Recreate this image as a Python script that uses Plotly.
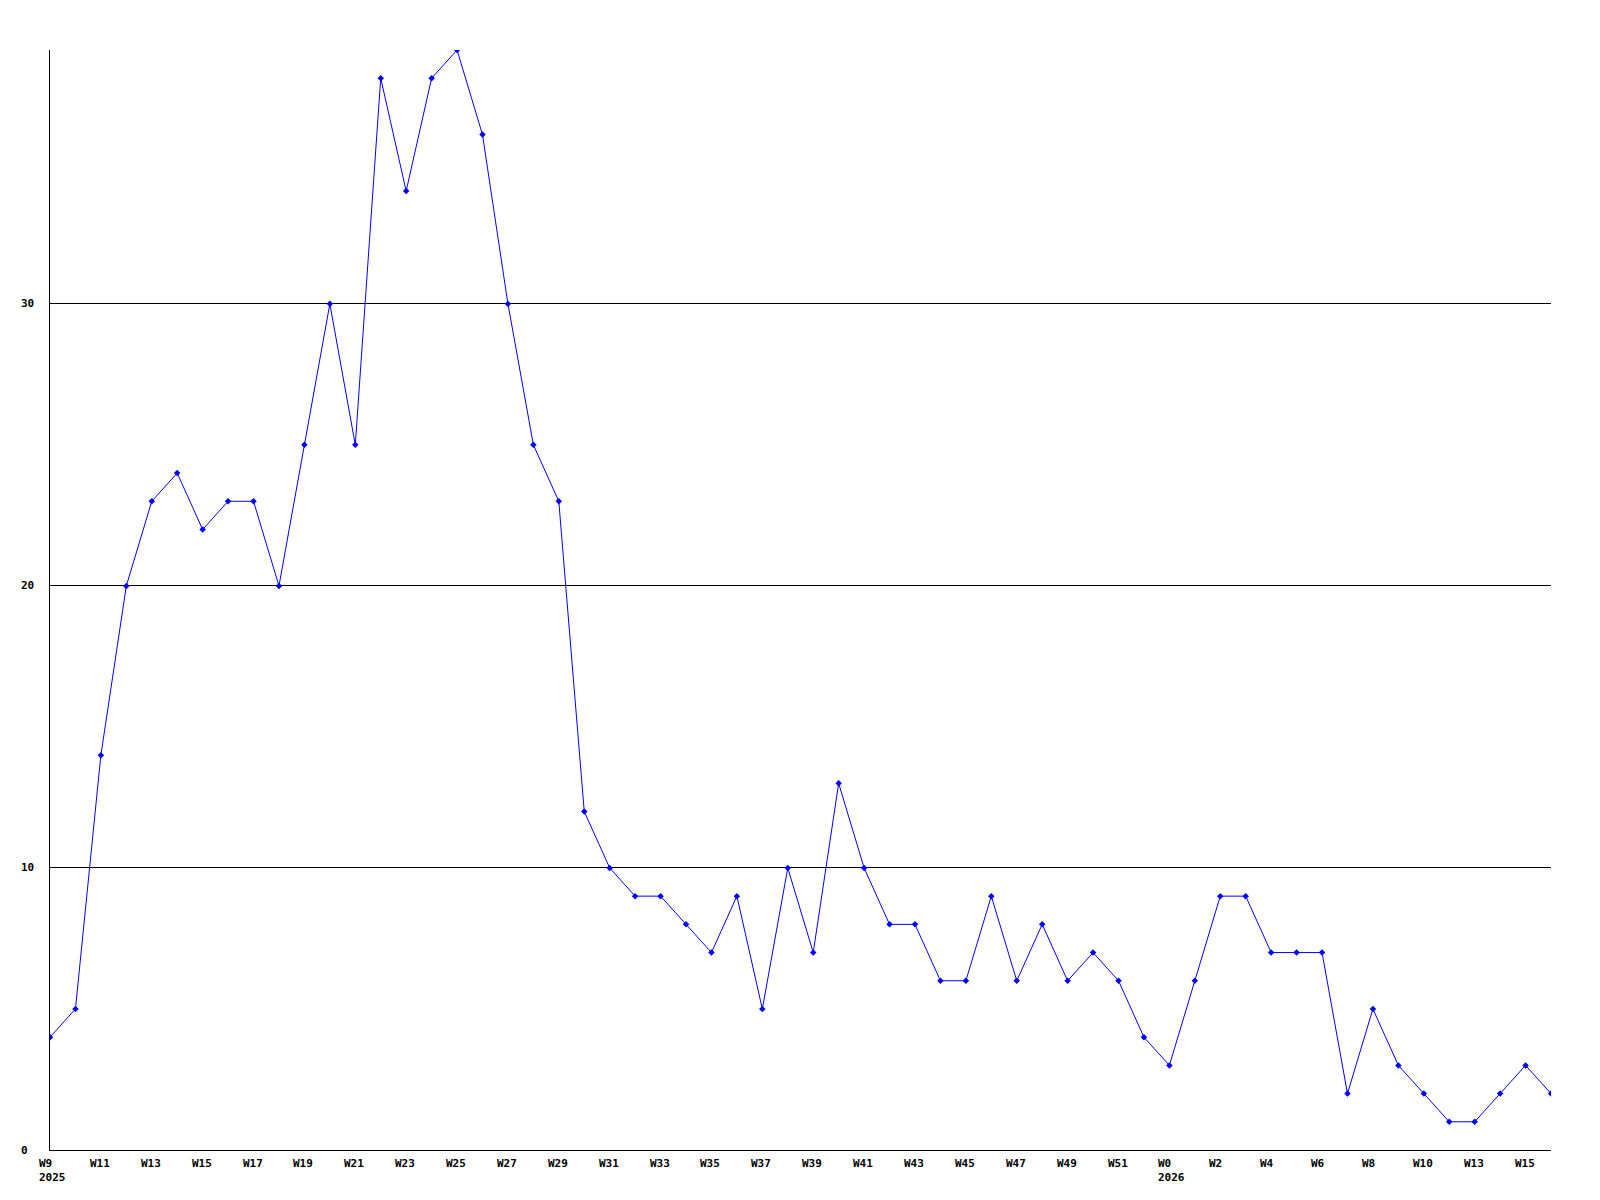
import plotly.graph_objects as go

# ---- data ----
weeks_2025 = [f"2025-W{w}" for w in range(9, 53)]
weeks_2026 = [f"2026-W{w}" for w in range(0, 12)] + [f"2026-W{w}" for w in range(13, 17)]
weeks = weeks_2025 + weeks_2026

values = [4, 5, 14, 20, 23, 24, 22, 23, 23, 20,
          25, 30, 25, 38, 34, 38, 39, 36, 30, 25,
          23, 12, 10, 9, 9, 8, 7, 9, 5, 10,
          7, 13, 10, 8, 8, 6, 6, 9, 6, 8,
          6, 7, 6, 4, 3, 6, 9, 9, 7, 7,
          7, 2, 5, 3, 2, 1, 1, 2, 3, 2]

tick_weeks = weeks[::2]
tick_labels = [w.split("-")[1] for w in tick_weeks]
year_labels = {"2025-W9": "2025", "2026-W0": "2026"}

y_ticks = [0, 10, 20, 30]
y_max = 39

FONT = dict(family="DejaVu Sans Mono", size=11, color="black", weight="bold")

fig = go.Figure()
fig.add_trace(go.Scatter(
    x=weeks, y=values, mode="lines+markers",
    line=dict(color="#0000ff", width=1),
    marker=dict(symbol="diamond", size=5, color="#0000ff"),
    hoverinfo="skip", showlegend=False,
))

annotations = []
for w, lab in zip(tick_weeks, tick_labels):
    text = lab
    if w in year_labels:
        text = lab + "<br>" + year_labels[w]
    annotations.append(dict(
        x=w, xref="x", y=0, yref="paper", yanchor="top", xanchor="left",
        xshift=-13, yshift=-5, text=text, align="left", showarrow=False, font=FONT,
    ))
for v in y_ticks:
    annotations.append(dict(
        x=0, xref="paper", y=v, yref="y", xanchor="left", yanchor="middle",
        xshift=-31, text=str(v), showarrow=False, font=FONT,
    ))

fig.update_layout(
    width=1584, height=1184,
    margin=dict(l=42, r=41, t=42, b=42),
    paper_bgcolor="white", plot_bgcolor="white",
    font=FONT,
    annotations=annotations,
    xaxis=dict(
        type="category", categoryorder="array", categoryarray=weeks,
        range=[0, len(weeks) - 1], showgrid=False, zeroline=False,
        showline=True, linecolor="black", linewidth=1,
        showticklabels=False, ticks="",
    ),
    yaxis=dict(
        range=[0, y_max], tickvals=y_ticks[1:], showgrid=True,
        gridcolor="black", gridwidth=1, zeroline=False,
        showline=True, linecolor="black", linewidth=1,
        showticklabels=False, ticks="",
    ),
)

fig.write_html("out.html")
